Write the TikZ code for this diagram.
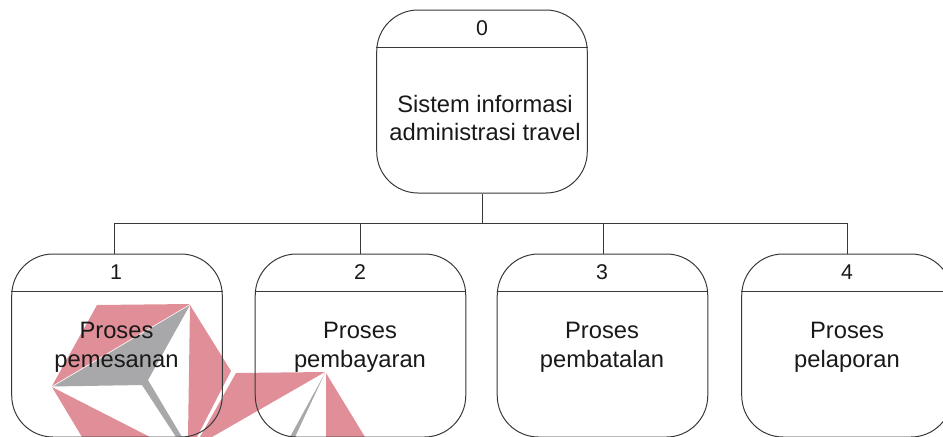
\documentclass[tikz,border=0pt]{standalone}
\usepackage{fontspec}
\setmainfont{Liberation Sans}
\tikzset{
	procbox/.style={draw=black!78, line width=0.75pt, rectangle, rounded corners=31pt, inner sep=0pt, minimum width=157.9pt, minimum height=137.25pt},
	numtext/.style={font=\fontsize{16}{18}\selectfont, color=black!90, inner sep=0pt},
	labeltext/.style={font=\fontsize{17.8}{21.5}\selectfont, color=black!90, align=center, inner sep=0pt},
	busline/.style={draw=black!78, line width=0.75pt},
	markred/.style={fill={rgb,255:red,224;green,143;blue,152}},
	markgray/.style={fill={rgb,255:red,168;green,168;blue,170}}
}

\begin{document}
\begin{tikzpicture}[x=0.75pt, y=-0.75pt]
	%%%%% START %%%%%
	
	\clip (0, 0) rectangle (943, 436);
	
	% mark behind the boxes
	\fill[markred] (97, 305) -- (190, 304) -- (52, 386) -- cycle;
	\fill[markgray] (190, 305) -- (53, 386.5) -- (142, 385) -- (176, 437) -- (182, 437) -- (148, 380) -- cycle;
	\fill[markred] (190, 305) -- (231, 371) -- (197, 437) -- (188, 437) -- cycle;
	\fill[markred] (52, 387) -- (150, 437) -- (82, 437) -- cycle;
	\fill[markred] (236, 373) -- (325, 372) -- (212, 437) -- (200, 437) -- cycle;
	\fill[markred] (326, 373) -- (365, 437) -- (326, 437) -- cycle;
	\fill[markgray] (325, 373) -- (290, 437) -- (295, 437) -- cycle;
	
	\node[procbox] (box0) at (482, 101.5) {};
	\node[procbox] (box1) at (117, 345.5) {};
	\node[procbox] (box2) at (360.5, 345.5) {};
	\node[procbox] (box3) at (602.5, 345.5) {};
	\node[procbox] (box4) at (847, 345.5) {};
	
	\draw[busline] ([yshift=-28.5pt]box0.north west) -- ([yshift=-28.5pt]box0.north east);
	\draw[busline] ([yshift=-28.5pt]box1.north west) -- ([yshift=-28.5pt]box1.north east);
	\draw[busline] ([yshift=-28.5pt]box2.north west) -- ([yshift=-28.5pt]box2.north east);
	\draw[busline] ([yshift=-28.5pt]box3.north west) -- ([yshift=-28.5pt]box3.north east);
	\draw[busline] ([yshift=-28.5pt]box4.north west) -- ([yshift=-28.5pt]box4.north east);
	
	\node[numtext] (num0) at (482, 28.5) {0};
	\node[numtext] (num1) at (116, 272.5) {1};
	\node[numtext] (num2) at (360, 272.5) {2};
	\node[numtext] (num3) at (602, 272.5) {3};
	\node[numtext] (num4) at (847, 272.5) {4};
	
	\node[labeltext] (label0) at (485, 118) {Sistem informasi\\administrasi travel};
	\node[labeltext] (label1) at (116.5, 347.5) {Proses\\pemesanan};
	\node[labeltext] (label2) at (360, 347.5) {Proses\\pembayaran};
	\node[labeltext] (label3) at (602, 347.5) {Proses\\pembatalan};
	\node[labeltext] (label4) at (847, 347.5) {Proses\\pelaporan};
	
	\coordinate (busmid) at (482, 223);
	\coordinate (bus1) at (114.5, 223);
	\coordinate (bus2) at (360.5, 223);
	\coordinate (bus3) at (603.5, 223);
	\coordinate (bus4) at (847, 223);
	
	\draw[busline] (box0.south) -- (busmid);
	\draw[busline] (bus1) -- (bus4);
	\draw[busline] (bus1) -- (bus1 |- box1.north);
	\draw[busline] (bus2) -- (bus2 |- box2.north);
	\draw[busline] (bus3) -- (bus3 |- box3.north);
	\draw[busline] (bus4) -- (bus4 |- box4.north);
	
	%%%%% END %%%%%
\end{tikzpicture}
\end{document}
